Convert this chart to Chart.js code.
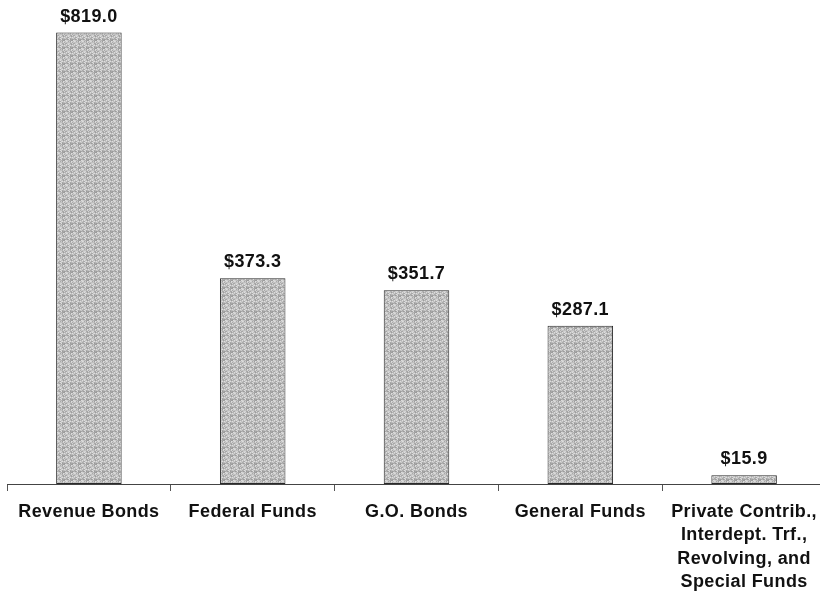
<!DOCTYPE html>
<html>
<head>
<meta charset="utf-8">
<script src="https://cdn.jsdelivr.net/npm/chart.js@4/dist/chart.umd.min.js"></script>
<style>
  html, body { margin: 0; padding: 0; background: #fff; overflow: hidden; }
  #wrap { width: 834px; height: 596px; }
</style>
</head>
<body>
<div id="wrap"><canvas id="chart" width="834" height="596"></canvas></div>
<script>
// Funding sources (millions of dollars)
const categories = [
  'Revenue Bonds',
  'Federal Funds',
  'G.O. Bonds',
  'General Funds',
  ['Private Contrib.,', 'Interdept. Trf.,', 'Revolving, and', 'Special Funds']
];
const amounts = [819.0, 373.3, 351.7, 287.1, 15.9];

// Grainy gray fill for the bars (fixed 8x8 tile of mixed grays)
function grainPattern() {
  const size = 8;
  const c = document.createElement('canvas');
  c.width = size; c.height = size;
  const g = c.getContext('2d');
  const tones = ['#9c9c9c', '#a8a8a8', '#b4b4b4', '#c0c0c0', '#cacaca', '#d4d4d4', '#dddddd'];
  for (let y = 0; y < size; y++) {
    for (let x = 0; x < size; x++) {
      const k = (x * 5 + y * 3 + ((x * y) % 5) * 2 + (x ^ y)) % tones.length;
      g.fillStyle = tones[k];
      g.fillRect(x, y, 1, 1);
    }
  }
  return g.createPattern(c, 'repeat');
}

const fontFamily = '"Liberation Sans", Arial, sans-serif';

// Slightly open letter spacing for all chart text
const textSpacing = {
  id: 'textSpacing',
  beforeInit(chart) { chart.ctx.letterSpacing = '0.4px'; },
  beforeDraw(chart) { chart.ctx.letterSpacing = '0.4px'; }
};

// Dollar labels above each bar
const valueLabels = {
  id: 'valueLabels',
  afterDatasetsDraw(chart) {
    const ctx = chart.ctx;
    const meta = chart.getDatasetMeta(0);
    ctx.save();
    ctx.font = 'bold 18px ' + fontFamily;
    ctx.fillStyle = '#111';
    ctx.textAlign = 'center';
    ctx.textBaseline = 'alphabetic';
    meta.data.forEach((bar, i) => {
      ctx.fillText('$' + amounts[i].toFixed(1), bar.x, bar.y - 11);
    });
    ctx.restore();
  }
};

new Chart(document.getElementById('chart'), {
  type: 'bar',
  data: {
    labels: categories,
    datasets: [{
      data: amounts,
      backgroundColor: grainPattern(),
      borderColor: '#2a2a2a',
      borderWidth: 1,
      borderSkipped: false,
      categoryPercentage: 1.0,
      barPercentage: 0.4
    }]
  },
  options: {
    responsive: false,
    animation: false,
    devicePixelRatio: 1,
    layout: { padding: { top: 10, left: 7, right: 8, bottom: 0 } },
    plugins: {
      legend: { display: false },
      tooltip: { enabled: false }
    },
    scales: {
      x: {
        afterFit(scale) { scale.height = 112; },
        grid: {
          display: true,
          offset: true,
          drawOnChartArea: false,
          drawTicks: true,
          tickLength: 7,
          color: '#555',
          lineWidth: 1
        },
        border: { display: true, color: '#444', width: 1, dash: [2, 1] },
        ticks: {
          color: '#111',
          padding: 9,
          maxRotation: 0,
          autoSkip: false,
          font: { family: fontFamily, size: 18, weight: 'bold', lineHeight: 1.31 }
        }
      },
      y: {
        display: false,
        min: 0,
        max: 860
      }
    }
  },
  plugins: [textSpacing, valueLabels]
});
</script>
</body>
</html>
